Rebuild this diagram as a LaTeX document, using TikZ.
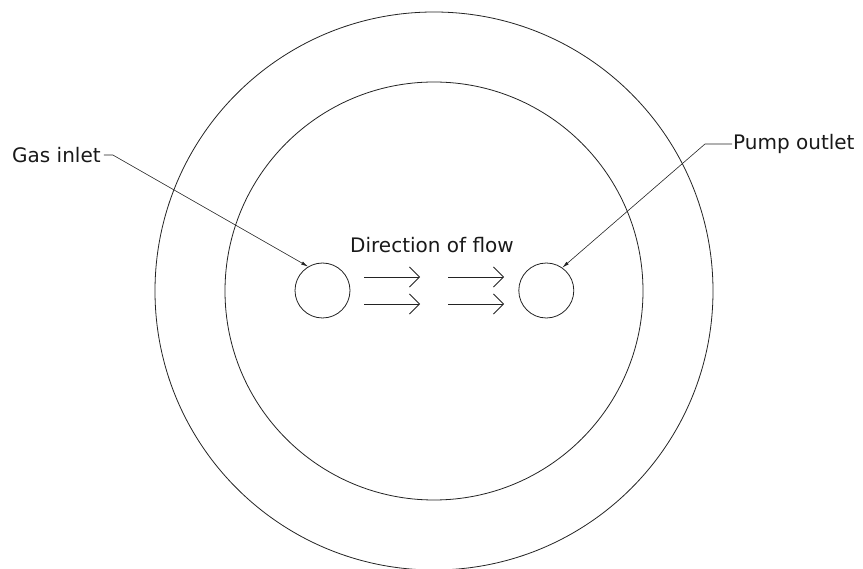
\documentclass[tikz,border=0pt]{standalone}
\usepackage{fontspec}
\setmainfont{DejaVu Sans}
\usepackage{xcolor}
\usetikzlibrary{arrows.meta,positioning}
\definecolor{lineink}{RGB}{35,35,35}

\begin{document}
\begin{tikzpicture}[x=1pt,y=-1pt,
        ring/.style={circle,draw=lineink,line width=0.8pt,inner sep=0pt},
        port/.style={circle,draw=lineink,line width=0.8pt,minimum size=55pt,inner sep=0pt},
        lbl/.style={font=\fontsize{20}{24}\selectfont,text=black!90,inner sep=0pt},
        leader/.style={draw=lineink,line width=0.6pt,-{Latex[length=7pt,width=3.5pt]}},
        flow/.style={draw=lineink,line width=0.8pt,-{Straight Barb[length=10pt,width=20pt]}}]
        \useasboundingbox (0,0) rectangle (863,569);
        % chamber walls
        \node[ring,minimum size=558pt] (outer) at (434,291) {};
        \node[ring,minimum size=418pt] (inner) at (434,291) {};
        % ports
        \node[port] (inlet) at (322.5,290.5) {};
        \node[port,right=168pt of inlet] (outlet) {};
        % labels
        \node[lbl,anchor=base] (flowlbl) at (432,253) {Direction of flow};
        \node[lbl,anchor=base west] (gaslbl) at (12,163) {Gas inlet};
        \node[lbl,anchor=base west] (pumplbl) at (733,150) {Pump outlet};
        % flow arrows
        \coordinate (a1) at (364,277);
        \coordinate (b1) at (420,277);
        \coordinate (a2) at (448,277);
        \coordinate (b2) at (504,277);
        \coordinate (a3) at (364,304);
        \coordinate (b3) at (420,304);
        \coordinate (a4) at (448,304);
        \coordinate (b4) at (504,304);
        \draw[flow] (a1) -- (b1);
        \draw[flow] (a2) -- (b2);
        \draw[flow] (a3) -- (b3);
        \draw[flow] (a4) -- (b4);
        % leaders
        \draw[leader] ([xshift=3pt,yshift=8pt]gaslbl.base east) -- ++(9,0) -- (inlet.121);
        \draw[leader] ([xshift=-1pt,yshift=6pt]pumplbl.base west) -- ++(-27,0) -- (outlet.55);
      \end{tikzpicture}
\end{document}
